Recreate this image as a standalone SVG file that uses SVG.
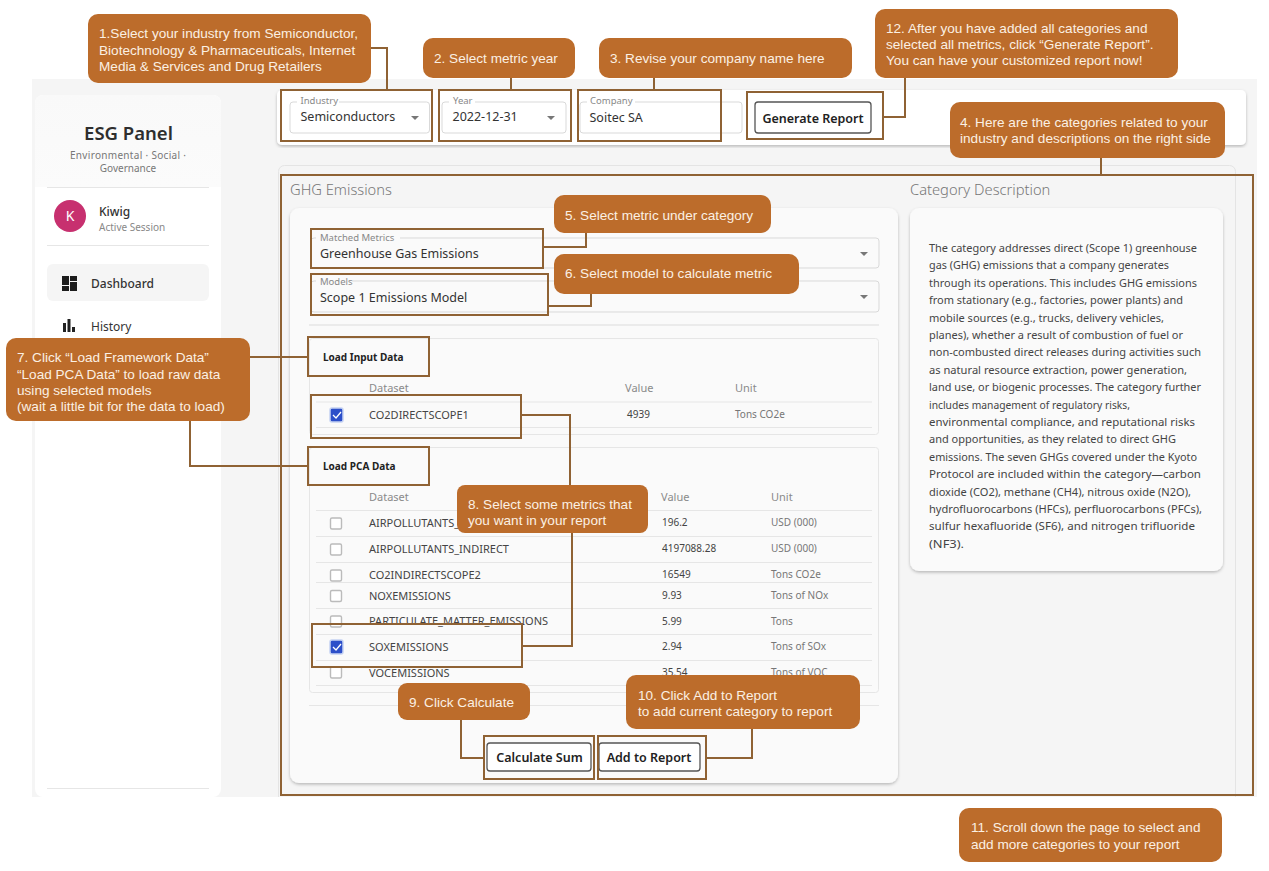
<svg xmlns="http://www.w3.org/2000/svg" width="1269" height="871" viewBox="0 0 1269 871">
<defs>
<style>
text{font-family:"Noto Sans","Liberation Sans",sans-serif;fill:#333}
.c{fill:#bc6c2b}
.ct{font-family:"Liberation Sans",Arial,sans-serif;font-size:13.6px;fill:#fbf0e3}
.b{fill:none;stroke:#8f6234;stroke-width:2}
.l{fill:none;stroke:#8f6234;stroke-width:2}
.d{font-size:11.5px;fill:#444}
.n{font-size:11px;fill:#444}
.h{font-size:11px;fill:#8a8a8a}
.u{font-size:10px;fill:#777}
.v{font-size:10px;fill:#444}
.r{stroke:#e6e6e6;stroke-width:1}
.f{fill:#fff;stroke:#d9d9d9;stroke-width:1}
.lab{font-size:9.5px;fill:#888}
.val{font-size:12.5px;fill:#333}
.btn{fill:#fff;stroke:#555;stroke-width:1.3}
.bt{font-size:12.5px;font-weight:600;fill:#222;text-anchor:middle}
.ar{fill:#777}
.cb{fill:#fff;stroke:#bbb;stroke-width:1.4}
.card{fill:#fafafa;filter:url(#sh)}
</style>
<filter id="sh" x="-5%" y="-5%" width="110%" height="110%"><feDropShadow dx="0" dy="1.5" stdDeviation="1.5" flood-color="#000" flood-opacity=".25"/></filter>
<linearGradient id="sg" x1="0" y1="0" x2="0" y2="1"><stop offset="0" stop-color="#f9f9f9"/><stop offset="1" stop-color="#fbfbfb"/></linearGradient>
</defs>
<rect width="1269" height="871" fill="#fff"/>
<rect x="32" y="79" width="1225" height="718" fill="#f5f5f5"/>
<g id="sidebar">
<rect x="35" y="95" width="186" height="702" rx="8" fill="#fff"/>
<path d="M35 187V103a8 8 0 0 1 8-8H213a8 8 0 0 1 8 8V187Z" fill="url(#sg)"/>
<text x="128.500" y="140" text-anchor="middle" font-size="18.500" font-weight="600" style="fill:#2e2e2e">ESG Panel</text>
<text x="128" y="159" text-anchor="middle" font-size="10" textLength="116" style="fill:#777">Environmental  ·  Social  ·</text>
<text x="128" y="172" text-anchor="middle" font-size="10" style="fill:#777">Governance</text>
<line x1="47" y1="187.500" x2="209" y2="187.500" class="r"/>
<circle cx="70" cy="216" r="16" fill="#c7306f"/>
<text x="70" y="221" text-anchor="middle" font-size="14" style="fill:#fff">K</text>
<text x="99" y="216" font-size="12" font-weight="500" style="fill:#333">Kiwig</text>
<text x="99" y="231" font-size="10" style="fill:#888">Active Session</text>
<line x1="47" y1="245.500" x2="209" y2="245.500" class="r"/>
<rect x="47" y="264" width="162" height="37" rx="6" fill="#f5f5f5"/>
<path d="M62 276h7v9h-7zM70 276h7v5h-7zM62 286h7v5h-7zM70 282h7v9h-7z" fill="#1c1c1c"/>
<text x="91" y="288" font-size="12" font-weight="500" style="fill:#333">Dashboard</text>
<path d="M63 323h3v9h-3zM67.500 319h3v13h-3zM72 327h3v5h-3z" fill="#222"/>
<text x="91" y="331" font-size="12" style="fill:#333">History</text>
<line x1="47" y1="788.500" x2="209" y2="788.500" class="r"/>
</g>
<g id="topbar">
<rect x="277" y="90" width="969" height="55" rx="5" fill="#fff" filter="url(#sh)"/>
<rect x="290" y="102" width="139.500" height="31" rx="3" class="f"/>
<rect x="297" y="98" width="42" height="8" fill="#fff"/>
<text x="300.500" y="104" class="lab">Industry</text>
<text x="300.500" y="121" class="val">Semiconductors</text>
<path d="M411 116h8l-4 4z" class="ar"/>
<rect x="442" y="102" width="124" height="31" rx="3" class="f"/>
<rect x="449" y="98" width="26" height="8" fill="#fff"/>
<text x="453" y="104" class="lab">Year</text>
<text x="452.500" y="121" class="val">2022-12-31</text>
<path d="M547 116h8l-4 4z" class="ar"/>
<rect x="580" y="102" width="162" height="31" rx="3" class="f"/>
<rect x="587" y="98" width="48" height="8" fill="#fff"/>
<text x="590" y="104" class="lab">Company</text>
<text x="589.500" y="122" class="val">Soitec SA</text>
<rect x="755" y="102" width="116" height="31" rx="3" class="btn"/>
<text x="813" y="123" class="bt">Generate Report</text>
</g>
<g id="panel">
<rect x="278.500" y="165.500" width="957" height="640" rx="6" fill="#f5f5f5" stroke="#e4e4e4"/>
<rect x="278" y="797" width="960" height="12" fill="#fff"/>
<text x="290" y="195" font-size="14.700" font-weight="300" style="fill:#777">GHG Emissions</text>
<text x="910" y="195" font-size="14.700" font-weight="300" style="fill:#777">Category Description</text>
</g>
<g id="description">
<rect x="910" y="208" width="313" height="363" rx="9" class="card"/>
<g class="d">
<text class="d" x="929" y="252" textLength="268" lengthAdjust="spacingAndGlyphs">The category addresses direct (Scope 1) greenhouse</text>
<text class="d" x="929" y="269.400" textLength="240" lengthAdjust="spacingAndGlyphs">gas (GHG) emissions that a company generates</text>
<text class="d" x="929" y="286.800" textLength="268" lengthAdjust="spacingAndGlyphs">through its operations. This includes GHG emissions</text>
<text class="d" x="929" y="304.200" textLength="254" lengthAdjust="spacingAndGlyphs">from stationary (e.g., factories, power plants) and</text>
<text class="d" x="929" y="321.600" textLength="235" lengthAdjust="spacingAndGlyphs">mobile sources (e.g., trucks, delivery vehicles,</text>
<text class="d" x="929" y="339" textLength="254" lengthAdjust="spacingAndGlyphs">planes), whether a result of combustion of fuel or</text>
<text class="d" x="929" y="356.400" textLength="272" lengthAdjust="spacingAndGlyphs">non-combusted direct releases during activities such</text>
<text class="d" x="929" y="373.800" textLength="258" lengthAdjust="spacingAndGlyphs">as natural resource extraction, power generation,</text>
<text class="d" x="929" y="391.200" textLength="272" lengthAdjust="spacingAndGlyphs">land use, or biogenic processes. The category further</text>
<text class="d" x="929" y="408.600" textLength="201" lengthAdjust="spacingAndGlyphs">includes management of regulatory risks,</text>
<text class="d" x="929" y="426" textLength="266" lengthAdjust="spacingAndGlyphs">environmental compliance, and reputational risks</text>
<text class="d" x="929" y="443.400" textLength="247" lengthAdjust="spacingAndGlyphs">and opportunities, as they related to direct GHG</text>
<text class="d" x="929" y="460.800" textLength="268" lengthAdjust="spacingAndGlyphs">emissions. The seven GHGs covered under the Kyoto</text>
<text class="d" x="929" y="478.200" textLength="272" lengthAdjust="spacingAndGlyphs">Protocol are included within the category—carbon</text>
<text class="d" x="929" y="495.600" textLength="262" lengthAdjust="spacingAndGlyphs">dioxide (CO2), methane (CH4), nitrous oxide (N2O),</text>
<text class="d" x="929" y="513" textLength="273" lengthAdjust="spacingAndGlyphs">hydrofluorocarbons (HFCs), perfluorocarbons (PFCs),</text>
<text class="d" x="929" y="530.400" textLength="266" lengthAdjust="spacingAndGlyphs">sulfur hexafluoride (SF6), and nitrogen trifluoride</text>
<text class="d" x="929" y="547.800" textLength="35" lengthAdjust="spacingAndGlyphs">(NF3).</text>
</g>
</g>
<g id="form">
<rect x="290" y="208" width="608" height="575" rx="9" class="card"/>
<rect x="311" y="238" width="568" height="30" rx="3" class="f" fill-opacity="0"/>
<rect x="316" y="233" width="84" height="8" fill="#fafafa"/>
<text x="320" y="241" class="lab">Matched Metrics</text>
<text x="320" y="258" class="val">Greenhouse Gas Emissions</text>
<path d="M860 252h8l-4 4z" class="ar"/>
<rect x="311" y="281" width="568" height="31" rx="3" class="f" fill-opacity="0"/>
<rect x="316" y="276" width="36" height="8" fill="#fafafa"/>
<text x="320" y="285" class="lab">Models</text>
<text x="320" y="302" class="val">Scope 1 Emissions Model</text>
<path d="M860 295h8l-4 4z" class="ar"/>
<line x1="309" y1="325" x2="879" y2="325" stroke="#e6e6e6" stroke-width="1.5"/>
<rect x="309.500" y="338.500" width="569" height="96" rx="3" fill="none" stroke="#e6e6e6"/>
<text x="323" y="361" font-size="10" font-weight="700" style="fill:#222">Load Input Data</text>
<text x="369" y="392" class="h">Dataset</text>
<text x="625" y="392" class="h">Value</text>
<text x="735" y="392" class="h">Unit</text>
<line x1="316" y1="402" x2="872" y2="402" class="r"/>
<rect x="330" y="408" width="13" height="14" rx="2" fill="#2c4fc9" stroke="#c5d2f2" stroke-width="1.500"/>
<path d="M333 415l3 3 5-6" fill="none" stroke="#fff" stroke-width="1.300"/>
<text x="369" y="419" class="n">CO2DIRECTSCOPE1</text>
<text x="627" y="418" class="v">4939</text>
<text x="735" y="418" class="u">Tons CO2e</text>
<line x1="316" y1="427.500" x2="872" y2="427.500" class="r"/>
<rect x="309.500" y="447.500" width="569" height="245" rx="3" fill="none" stroke="#e6e6e6"/>
<text x="323" y="470" font-size="10" font-weight="700" style="fill:#222">Load PCA Data</text>
<text x="369" y="501" class="h">Dataset</text>
<text x="661" y="501" class="h">Value</text>
<text x="771" y="501" class="h">Unit</text>
<g class="r"><line x1="316" y1="510.500" x2="872" y2="510.500"/><line x1="316" y1="536.500" x2="872" y2="536.500"/><line x1="316" y1="562.500" x2="872" y2="562.500"/><line x1="316" y1="582.500" x2="872" y2="582.500"/><line x1="316" y1="608.500" x2="872" y2="608.500"/><line x1="316" y1="634.500" x2="872" y2="634.500"/><line x1="316" y1="660.500" x2="872" y2="660.500"/><line x1="316" y1="685.500" x2="872" y2="685.500"/></g>
<rect x="330.500" y="518" width="11" height="11" rx="1.500" class="cb"/>
<rect x="330.500" y="544" width="11" height="11" rx="1.500" class="cb"/>
<rect x="330.500" y="570" width="11" height="11" rx="1.500" class="cb"/>
<rect x="330.500" y="590.500" width="11" height="11" rx="1.500" class="cb"/>
<rect x="330.500" y="616" width="11" height="11" rx="1.500" class="cb"/>
<rect x="330" y="640" width="13" height="14" rx="2" fill="#2c4fc9" stroke="#c5d2f2" stroke-width="1.500"/>
<path d="M333 647l3 3 5-6" fill="none" stroke="#fff" stroke-width="1.300"/>
<rect x="330.500" y="667" width="11" height="11" rx="1.500" class="cb"/>
<text x="369" y="527" class="n">AIRPOLLUTANTS_</text>
<text x="369" y="553" class="n">AIRPOLLUTANTS_INDIRECT</text>
<text x="369" y="579" class="n">CO2INDIRECTSCOPE2</text>
<text x="369" y="600" class="n">NOXEMISSIONS</text>
<text x="369" y="625" class="n">PARTICULATE_MATTER_EMISSIONS</text>
<text x="369" y="651" class="n">SOXEMISSIONS</text>
<text x="369" y="677" class="n">VOCEMISSIONS</text>
<text x="662" y="526" class="v">196.2</text><text x="771" y="526" class="u">USD (000)</text>
<text x="662" y="552" class="v">4197088.28</text><text x="771" y="552" class="u">USD (000)</text>
<text x="662" y="578" class="v">16549</text><text x="771" y="578" class="u">Tons CO2e</text>
<text x="662" y="599" class="v">9.93</text><text x="771" y="599" class="u">Tons of NOx</text>
<text x="662" y="625" class="v">5.99</text><text x="771" y="625" class="u">Tons</text>
<text x="662" y="650" class="v">2.94</text><text x="771" y="650" class="u">Tons of SOx</text>
<text x="662" y="676" class="v">35.54</text><text x="771" y="676" class="u">Tons of VOC</text>
<line x1="309" y1="705.500" x2="879" y2="705.500" class="r"/>
<rect x="487" y="743" width="104" height="28" rx="3" class="btn"/>
<text x="539.500" y="762" class="bt">Calculate Sum</text>
<rect x="599" y="743" width="101" height="28" rx="3" class="btn"/>
<text x="649" y="762" class="bt">Add to Report</text>
</g>
<g id="highlights">
<rect x="281" y="90" width="151" height="51" class="b"/>
<rect x="439" y="90" width="132" height="51" class="b"/>
<rect x="578" y="90" width="143" height="51" class="b"/>
<rect x="747" y="92" width="136" height="47" class="b"/>
<rect x="281" y="175" width="972" height="620" class="b"/>
<rect x="311" y="229" width="232" height="39" class="b"/>
<rect x="311" y="274" width="237" height="41" class="b"/>
<rect x="308" y="337" width="121" height="39" class="b"/>
<rect x="311" y="395" width="210" height="43" class="b"/>
<rect x="308" y="447" width="121" height="38" class="b"/>
<rect x="312" y="624" width="210" height="43" class="b"/>
<rect x="484" y="736" width="110" height="43" class="b"/>
<rect x="598" y="736" width="108" height="43" class="b"/>
</g>
<g id="connectors">
<path class="l" d="M371 48H387V90"/>
<path class="l" d="M511 78V90"/>
<path class="l" d="M654 78V90"/>
<path class="l" d="M905 78V117H883"/>
<path class="l" d="M1101 158V175"/>
<path class="l" d="M586 233V247H543"/>
<path class="l" d="M591 294V306H548"/>
<path class="l" d="M250 357H308"/>
<path class="l" d="M190 421V466H308"/>
<path class="l" d="M521 415H570V485"/>
<path class="l" d="M572 533V646H522"/>
<path class="l" d="M461 720V758H484"/>
<path class="l" d="M752 729V758H706"/>
</g>
<g id="step1"><rect class="c" x="88" y="14" width="283" height="69" rx="10"/><text class="ct" x="99" y="38">1.Select your industry from Semiconductor,</text><text class="ct" x="99" y="55">Biotechnology &amp; Pharmaceuticals, Internet</text><text class="ct" x="99" y="71">Media &amp; Services and Drug Retailers</text></g>
<g id="step2"><rect class="c" x="423" y="38" width="152" height="40" rx="10"/><text class="ct" x="434" y="63">2. Select metric year</text></g>
<g id="step3"><rect class="c" x="599" y="38" width="253" height="40" rx="10"/><text class="ct" x="610" y="63">3. Revise your company name here</text></g>
<g id="step12"><rect class="c" x="875" y="9" width="303" height="69" rx="10"/><text class="ct" x="886" y="33">12. After you have added all categories and</text><text class="ct" x="886" y="49">selected all metrics, click “Generate Report”.</text><text class="ct" x="886" y="65">You can have your customized report now!</text></g>
<g id="step4"><rect class="c" x="950" y="102" width="275" height="56" rx="10"/><text class="ct" x="960" y="127">4. Here are the categories related to your</text><text class="ct" x="960" y="143">industry and descriptions on the right side</text></g>
<g id="step5"><rect class="c" x="554" y="195" width="217" height="38" rx="10"/><text class="ct" x="565" y="220">5. Select metric under category</text></g>
<g id="step6"><rect class="c" x="554" y="254" width="245" height="40" rx="10"/><text class="ct" x="565" y="278">6. Select model to calculate metric</text></g>
<g id="step7"><rect class="c" x="6" y="338" width="244" height="83" rx="10"/><text class="ct" x="17" y="362">7. Click “Load Framework Data”</text><text class="ct" x="17" y="379">“Load PCA Data” to load raw data</text><text class="ct" x="17" y="395">using selected models</text><text class="ct" x="17" y="411">(wait a little bit for the data to load)</text></g>
<g id="step8"><rect class="c" x="457" y="485" width="191" height="48" rx="8"/><text class="ct" x="468" y="509">8. Select some metrics that</text><text class="ct" x="468" y="525">you want in your report</text></g>
<g id="step9"><rect class="c" x="398" y="683" width="132" height="37" rx="9"/><text class="ct" x="409" y="707">9. Click Calculate</text></g>
<g id="step10"><rect class="c" x="626" y="675" width="234" height="54" rx="10"/><text class="ct" x="638" y="700">10. Click Add to Report</text><text class="ct" x="638" y="716">to add current category to report</text></g>
<g id="step11"><rect class="c" x="959" y="808" width="263" height="54" rx="10"/><text class="ct" x="971" y="832">11. Scroll down the page to select and</text><text class="ct" x="971" y="849">add more categories to your report</text></g>
</svg>
